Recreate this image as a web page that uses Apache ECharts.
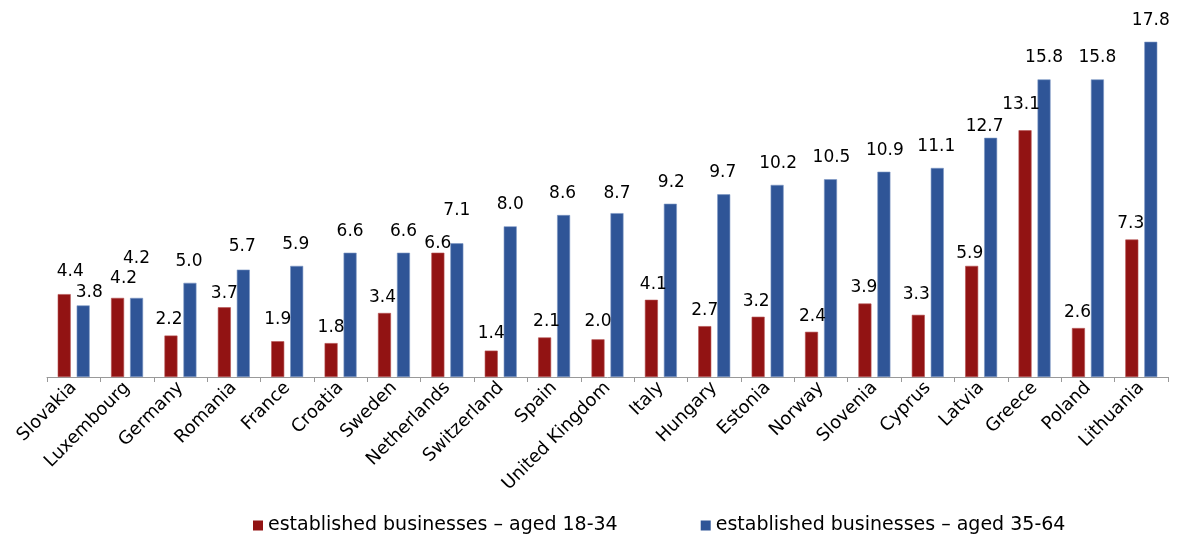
<!DOCTYPE html>
<html>
<head>
<meta charset="utf-8">
<script src="https://cdn.jsdelivr.net/npm/echarts@6/dist/echarts.min.js"></script>
<style>
html,body{margin:0;padding:0;background:#fff;}
#chart{width:1184px;height:537px;}
</style>
</head>
<body>
<div id="chart"></div>
<script>
const categories = ["Slovakia","Luxembourg","Germany","Romania","France","Croatia","Sweden","Netherlands","Switzerland","Spain","United Kingdom","Italy","Hungary","Estonia","Norway","Slovenia","Cyprus","Latvia","Greece","Poland","Lithuania"];
const aged1834 = [4.4,4.2,2.2,3.7,1.9,1.8,3.4,6.6,1.4,2.1,2.0,4.1,2.7,3.2,2.4,3.9,3.3,5.9,13.1,2.6,7.3];
const aged3564 = [3.8,4.2,5.0,5.7,5.9,6.6,6.6,7.1,8.0,8.6,8.7,9.2,9.7,10.2,10.5,10.9,11.1,12.7,15.8,15.8,17.8];
const seriesNames = ["established businesses \u2013 aged 18-34","established businesses \u2013 aged 35-64"];

// label nudges (layout only): [dx, dy] in px
const redShift = [[6,-7],[6,-4],[-2,0],[0,2],[0,-6],[0,0],[-2,0],[0,6],[0,-2],[2,0],[0,-2],[2,0],[0,0],[-2,0],[1,0],[-1,0],[-2,-5],[-2,3],[-4,-10],[-1,0],[-1,0]];
const blueShift = [[6,9],[0,-18],[-1,0],[-1,-2],[-1,0],[0,0],[0,0],[0,-11],[0,0],[-1,0],[0,2],[1,0],[-1,0],[1,0],[1,0],[1,0],[-1,0],[-6,10],[0,0],[0,0],[0,0]];

function build(values, shifts) {
  return values.map((v, i) => ({ value: v, label: { offset: shifts[i] } }));
}

const chart = echarts.init(document.getElementById('chart'), null, {renderer: 'canvas'});
const font = '"DejaVu Sans", sans-serif';
chart.setOption({
  animation: false,
  backgroundColor: '#ffffff',
  textStyle: { fontFamily: font },
  grid: { left: 47, right: 16, top: 38, bottom: 160, containLabel: false },
  legend: {
    left: 253, top: 516, padding: 0,
    itemWidth: 10, itemHeight: 10, itemGap: 83,
    icon: 'rect',
    itemStyle: { borderWidth: 0 },
    textStyle: { fontSize: 19, color: '#000', fontFamily: font },
    data: seriesNames
  },
  xAxis: {
    type: 'category',
    data: categories,
    axisLine: { lineStyle: { color: '#999999', width: 1 } },
    axisTick: { show: true, alignWithLabel: false, length: 5, lineStyle: { color: '#999999' } },
    axisLabel: { rotate: 45, fontSize: 18, color: '#000', margin: 8, interval: 0, fontFamily: font }
  },
  yAxis: {
    type: 'value', min: 0, max: 18, show: false,
    splitLine: { show: false }
  },
  series: [
    {
      name: seriesNames[0], type: 'bar',
      data: build(aged1834, redShift),
      barWidth: 13, barGap: '46%',
      itemStyle: { color: '#921313', borderColor: '#b55050', borderWidth: 0.6 },
      label: { show: true, position: 'top', distance: 7, fontSize: 17, color: '#000', fontFamily: font, formatter: p => p.value.toFixed(1) }
    },
    {
      name: seriesNames[1], type: 'bar',
      data: build(aged3564, blueShift),
      barWidth: 13,
      itemStyle: { color: '#2F5597', borderColor: '#7c97c4', borderWidth: 0.6 },
      label: { show: true, position: 'top', distance: 13, fontSize: 17, color: '#000', fontFamily: font, formatter: p => p.value.toFixed(1) }
    }
  ]
});
</script>
</body>
</html>
